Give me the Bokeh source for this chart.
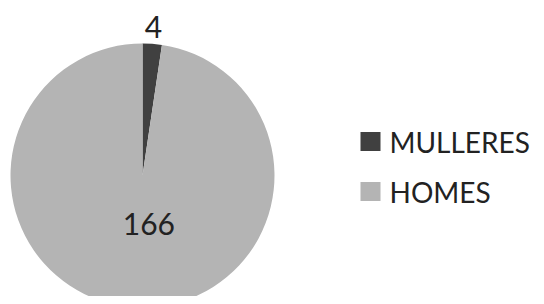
import math
from bokeh.plotting import figure
from bokeh.models import Range1d, ColumnDataSource
from bokeh.core.properties import value
from bokeh.embed import file_html
from bokeh.resources import INLINE

categories = ["MULLERES", "HOMES"]
counts = [4, 166]
colors = ["#404040", "#b4b4b4"]

FONT = "Lato"
W, H = 536, 296
p = figure(width=W, height=H, output_backend="svg", toolbar_location=None,
           x_range=Range1d(0, W), y_range=Range1d(304 - H, 304),
           min_border=0)
p.axis.visible = False
p.grid.visible = False
p.outline_line_color = None
p.background_fill_color = "white"
p.border_fill_color = "white"

cx, cy, r = 142, 304 - 175, 132
total = sum(counts)
starts, ends, mids = [], [], []
a = math.pi / 2
for c in counts:
    sweep = 2 * math.pi * c / total
    starts.append(a)
    ends.append(a - sweep)
    mids.append(a - sweep / 2)
    a -= sweep

src = ColumnDataSource(dict(start=starts, end=ends, color=colors, cat=categories))
p.wedge(x=cx, y=cy, radius=r, start_angle="start", end_angle="end",
        direction="clock", fill_color="color", line_color=None, source=src)

# data labels
lab_r = [149, 49]
lab_dx = [0, 10]
lx = [cx + lab_r[i] * math.cos(mids[i]) + lab_dx[i] for i in range(2)]
ly = [cy + lab_r[i] * math.sin(mids[i]) for i in range(2)]
p.text(x=lx, y=ly, text=[str(c) for c in counts], text_font=value(FONT),
       text_font_size="30px", text_color="#222222",
       text_align="center", text_baseline="middle")

# legend
leg_y = [304 - 141, 304 - 191]
p.rect(x=[370] * 2, y=leg_y, width=20, height=19, fill_color=colors, line_color=None)
p.text(x=[389] * 2, y=leg_y, text=categories, text_font=value(FONT),
       text_font_size="28px", text_color="#222222",
       text_align="left", text_baseline="middle")

open("out.html", "w").write(file_html(p, INLINE))
